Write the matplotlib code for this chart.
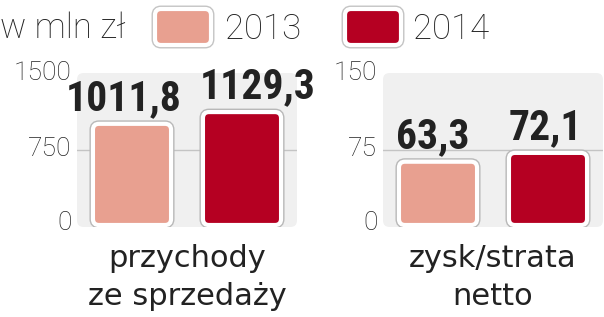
import matplotlib
matplotlib.use('Agg')
import matplotlib.pyplot as plt
from matplotlib import font_manager
from matplotlib.patches import FancyBboxPatch
from matplotlib.transforms import ScaledTranslation

# data
years = ['2013', '2014']
colors = ['#e8a090', '#b50022']
panels = ['przychody\nze sprzedaży', 'zysk/strata\nnetto']
revenue = [1011.8, 1129.3]
profit = [63.3, 72.1]
revenue_ticks = [0, 750, 1500]
profit_ticks = [0, 75, 150]
unit = 'w mln zł'


def pick(names):
    for n in names:
        try:
            font_manager.findfont(n, fallback_to_default=False)
            return n
        except Exception:
            pass
    return 'DejaVu Sans'


narrow = pick(['Liberation Sans Narrow', 'Roboto Condensed', 'DejaVu Sans'])
plain = 'DejaVu Sans'
light = pick(['Roboto', 'DejaVu Sans'])
dark = '#222222'

W, H = 604, 317
fig = plt.figure(figsize=(W / 100, H / 100), dpi=100)
fig.patch.set_facecolor('white')


def panel(left, values, ticks, title, shifts):
    ax = fig.add_axes([left / W, 90 / H, 220 / W, 154 / H])
    top = ticks[-1]
    px = top / 150.0  # data units per pixel
    ax.set_ylim(-2 * px, top + 2 * px)
    ax.set_xlim(-0.5, 1.5)
    ax.patch.set_visible(False)
    for s in ax.spines.values():
        s.set_visible(False)

    # rounded grey background
    bg = FancyBboxPatch((0, 0), 1, 1, boxstyle='round,pad=0,rounding_size=0.03',
                        transform=ax.transAxes, facecolor='#f0f0f0',
                        edgecolor='none', zorder=0,
                        mutation_aspect=220 / 154)
    ax.add_patch(bg)
    ax.axhline(ticks[1], color='#c4c4c4', lw=1, zorder=1)

    bars = ax.bar(range(len(values)), values, width=0.71, color=colors)
    ux = 2.0 / 220
    uy = (ax.get_ylim()[1] - ax.get_ylim()[0]) / 154
    for b, c in zip(bars, colors):
        b.set_visible(False)
        for ec, lw, z in [('#b8b8b8', 5, 2), ('white', 3, 3)]:
            p = FancyBboxPatch((b.get_x(), b.get_y()), b.get_width(), b.get_height(),
                               boxstyle='round,pad=0,rounding_size=%f' % (6 * ux),
                               mutation_aspect=uy / ux, facecolor=c,
                               edgecolor=ec, linewidth=lw, zorder=z)
            ax.add_patch(p)

    for i, v in enumerate(values):
        t = ax.text(i, v, ('%.1f' % v).replace('.', ','), ha='center', va='baseline',
                    fontsize=30, fontweight='bold', family=narrow, color=dark,
                    zorder=5)
        t.set_transform(ax.transData + ScaledTranslation(shifts[i] / 100, 14 / 100,
                                                         fig.dpi_scale_trans))

    ax.set_xticks([])
    ax.set_yticks(ticks)
    ax.set_yticklabels([str(t) for t in ticks], fontsize=19, family=light,
                       fontweight='light', color=dark)
    ax.tick_params(axis='y', length=0, pad=4)
    off = ScaledTranslation(0, 4 / 100, fig.dpi_scale_trans)
    for lab in ax.get_yticklabels():
        lab.set_transform(lab.get_transform() + off)

    for k, line in enumerate(title.split('\n')):
        fig.text((left + 110) / W, 1 - (267 + 38 * k) / H, line, ha='center',
                 va='baseline', fontsize=22, family=plain, color=dark)
    return ax


panel(77, revenue, revenue_ticks, panels[0], [-8, 16])
panel(383, profit, profit_ticks, panels[1], [-5, -3])

# legend
fig.text(0, 1 - 38 / H, unit, ha='left', va='baseline', fontsize=25,
         family=light, fontweight='light', color=dark)
for x0, tx, c, y in [(155, 225, colors[0], years[0]), (345, 413, colors[1], years[1])]:
    for ec, lw, z in [('#c4c4c4', 5, 2), ('white', 3, 3)]:
        p = FancyBboxPatch((x0 / W, 1 - 45 / H), 56 / W, 36 / H,
                           boxstyle='round,pad=0,rounding_size=%f' % (6 / W),
                           mutation_aspect=W / H, transform=fig.transFigure,
                           facecolor=c, edgecolor=ec, linewidth=lw, zorder=z)
        fig.patches.append(p)
    fig.text(tx / W, 1 - 39 / H, y, ha='left', va='baseline', fontsize=25,
             family=light, fontweight='light', color=dark)

fig.savefig('out.png', dpi=100)
